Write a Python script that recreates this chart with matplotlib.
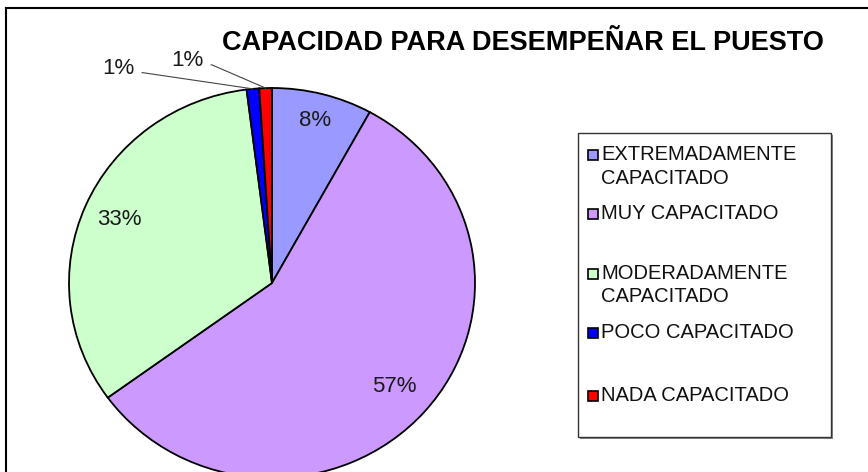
import matplotlib.pyplot as plt
import numpy as np
from matplotlib.patches import Rectangle
from matplotlib.lines import Line2D

plt.rcParams['font.family'] = ['Liberation Sans', 'DejaVu Sans']

# data
categories = ['EXTREMADAMENTE\nCAPACITADO', 'MUY CAPACITADO', 'MODERADAMENTE\nCAPACITADO',
              'POCO CAPACITADO', 'NADA CAPACITADO']
values = [8, 57, 33, 1, 1]
colors = ['#9999FF', '#CC99FF', '#CCFFCC', '#0000FF', '#FF0000']

W, H = 868, 472
fig = plt.figure(figsize=(W / 100, H / 100), dpi=100)

# pie axes (slightly stretched, bottom cut off like the original)
cx, cy, rx, ry = 272, 283, 203, 195
ax = fig.add_axes([(cx - rx) / W, (H - cy - ry) / H, 2 * rx / W, 2 * ry / H])
wedges, texts = ax.pie(values, colors=colors, startangle=90, counterclock=False,
                       wedgeprops=dict(edgecolor='black', linewidth=1.3))
ax.set_xlim(-1, 1)
ax.set_ylim(-1, 1)
ax.set_aspect('auto')
ax.set_axis_off()
for w in wedges:
    w.set_clip_on(False)

# percentage labels
total = sum(values)
cum = np.cumsum([0] + values)
pct_r = [0.86, 0.8, 0.82]
for i in range(3):
    mid = np.deg2rad(90 - (cum[i] + values[i] / 2) / total * 360)
    ax.text(pct_r[i] * np.cos(mid), pct_r[i] * np.sin(mid), f'{values[i]}%',
            ha='center', va='center', fontsize=16, color='#1a1a1a')

# small slices with leader lines
small_txt = [(-0.675, 1.10), (-0.335, 1.14)]
for k, i in enumerate([3, 4]):
    mid = np.deg2rad(90 - (cum[i] + values[i] / 2) / total * 360)
    ax.annotate(f'{values[i]}%', xy=(np.cos(mid), np.sin(mid)), xytext=small_txt[k],
                ha='right', va='center', fontsize=16, color='#1a1a1a',
                arrowprops=dict(arrowstyle='-', color='#444444', lw=0.8,
                                connectionstyle='arc,angleA=0,angleB=0,armA=8,armB=0,rad=0',
                                shrinkA=3, shrinkB=0, relpos=(1, 0.3)),
                annotation_clip=False)

fig.text(523 / W, 1 - 43 / H, 'CAPACIDAD PARA DESEMPEÑAR EL PUESTO', ha='center', va='center',
         fontsize=19.5, fontweight='bold')

# legend box
lx0, ly0, lx1, ly1 = 578, 133, 831, 437
fig.patches.append(Rectangle((lx0 / W + 2 / W, 1 - (ly1 + 2) / H), (lx1 - lx0) / W, (ly1 - ly0) / H,
                             transform=fig.transFigure, facecolor='#888888', edgecolor='none'))
fig.patches.append(Rectangle((lx0 / W, 1 - ly1 / H), (lx1 - lx0) / W, (ly1 - ly0) / H,
                             transform=fig.transFigure, facecolor='white', edgecolor='#333333', lw=1))
entry_y = [155, 214, 274, 333, 396]
for lab, col, yy in zip(categories, colors, entry_y):
    fig.patches.append(Rectangle((588 / W, 1 - (yy + 5) / H), 10 / W, 10 / H, transform=fig.transFigure,
                                 facecolor=col, edgecolor='black', lw=1.2))
    fig.text(601 / W, 1 - (yy - 10) / H, lab, ha='left', va='top', fontsize=14.5,
             linespacing=1.3, color='#111111')

# outer frame (top and left visible)
fig.add_artist(Line2D([6 / W, 1], [1 - 8 / H, 1 - 8 / H], transform=fig.transFigure, color='black', lw=1.5))
fig.add_artist(Line2D([6 / W, 6 / W], [0, 1 - 8 / H], transform=fig.transFigure, color='black', lw=1.5))

fig.savefig('out.png', dpi=100)
